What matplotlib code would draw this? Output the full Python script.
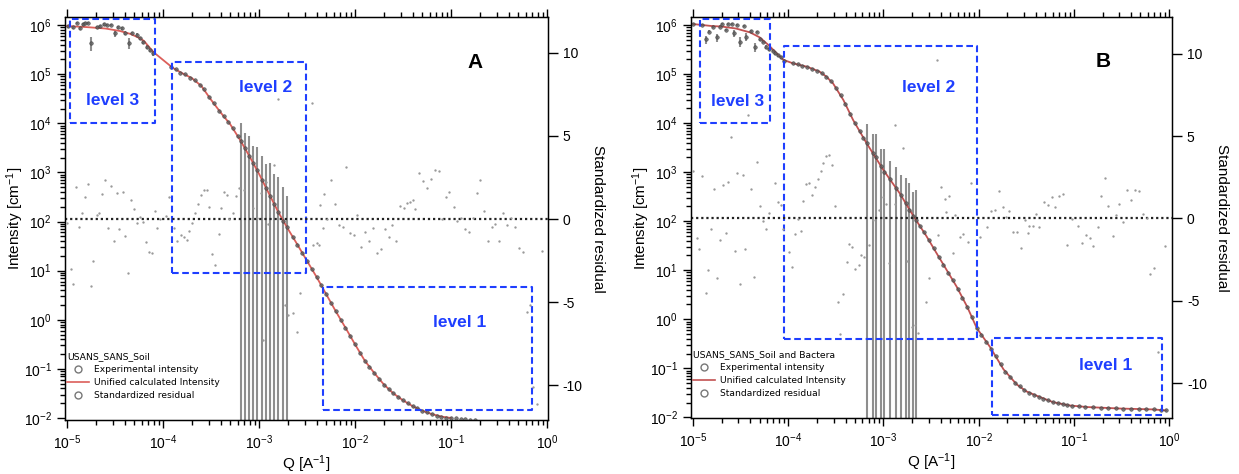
import numpy as np
import matplotlib.pyplot as plt
from matplotlib.lines import Line2D
from matplotlib.ticker import LogLocator, NullFormatter, FixedLocator

plt.rcParams['font.family'] = ['Liberation Sans', 'DejaVu Sans']
plt.rcParams['mathtext.default'] = 'regular'
plt.rcParams['axes.unicode_minus'] = False

# ---------------- A : soil ----------------
# unified fit
q_fit_a = [1.0e-5, 1.58e-5, 2.51e-5, 3.55e-5, 4.57e-5, 5.62e-5, 6.31e-5, 7.94e-5, 1.0e-4, 1.26e-4,
           1.58e-4, 2.0e-4, 2.51e-4, 3.16e-4, 3.98e-4, 5.01e-4, 6.31e-4, 7.94e-4, 1.0e-3, 1.26e-3,
           1.58e-3, 2.0e-3, 2.51e-3, 3.16e-3, 3.98e-3, 5.01e-3, 6.31e-3, 7.94e-3, 1.0e-2, 1.26e-2,
           1.58e-2, 2.0e-2, 2.51e-2, 3.16e-2, 3.98e-2, 5.01e-2, 6.31e-2, 7.94e-2, 0.100]
i_fit_a = [9.55e5, 9.12e5, 8.51e5, 7.59e5, 6.61e5, 5.50e5, 4.79e5, 2.82e5, 1.95e5, 1.35e5,
           1.05e5, 8.3e4, 5.75e4, 3.02e4, 1.66e4, 9.55e3, 4.68e3, 2.14e3, 933, 380,
           158, 70.8, 33.9, 15.8, 7.41, 3.31, 1.48, 0.692, 0.316, 0.148,
           0.0832, 0.0479, 0.0316, 0.0229, 0.0174, 0.0141, 0.0120, 0.0107, 0.0100]

# experimental intensity (USANS + SANS) with errors
q_exp_a = [1.02e-5, 1.15e-5, 1.27e-5, 1.36e-5, 1.47e-5, 1.54e-5, 1.65e-5, 1.78e-5, 2.05e-5, 2.21e-5,
           2.43e-5, 2.61e-5, 2.87e-5, 3.16e-5, 3.40e-5, 3.74e-5, 4.02e-5, 4.43e-5, 4.75e-5, 5.36e-5,
           5.75e-5, 6.19e-5, 6.81e-5, 7.32e-5, 7.87e-5,
           1.20e-4, 1.35e-4, 1.51e-4, 1.70e-4, 1.91e-4, 2.14e-4, 2.40e-4, 2.69e-4, 3.02e-4, 3.39e-4,
           3.80e-4, 4.27e-4, 4.79e-4, 5.37e-4, 6.03e-4,
           6.44e-4, 7.14e-4, 7.87e-4, 8.66e-4, 9.53e-4, 1.07e-3, 1.18e-3, 1.30e-3, 1.43e-3, 1.58e-3,
           1.78e-3, 1.96e-3,
           2.24e-3, 2.51e-3, 2.82e-3, 3.16e-3, 3.55e-3, 3.98e-3, 4.47e-3, 5.01e-3, 5.62e-3, 6.31e-3,
           7.08e-3, 7.94e-3, 8.91e-3, 1.00e-2, 1.12e-2, 1.26e-2, 1.41e-2, 1.58e-2, 1.78e-2, 2.00e-2,
           2.24e-2, 2.51e-2, 2.82e-2, 3.16e-2, 3.55e-2, 3.98e-2, 4.47e-2, 5.01e-2, 5.62e-2, 6.31e-2,
           7.08e-2, 7.94e-2, 8.91e-2, 0.100, 0.112, 0.126, 0.141, 0.158, 0.178]
i_exp_a = [9.5e5, 9.1e5, 1.1e6, 8.7e5, 1.05e6, 1.1e6, 1.1e6, 4.3e5, 9.1e5, 9.5e5,
           1.05e6, 1.0e6, 1.0e6, 6.9e5, 9.1e5, 8.7e5, 6.9e5, 4.3e5, 6.9e5, 6.25e5,
           5.4e5, 4.5e5, 3.6e5, 3.1e5, 2.7e5,
           1.42e5, 1.27e5, 1.08e5, 9.9e4, 8.5e4, 7.7e4, 6.1e4, 4.9e4, 3.4e4, 2.6e4,
           1.8e4, 1.43e4, 1.05e4, 7.9e3, 5.4e3,
           4.4e3, 3.1e3, 2.2e3, 1.58e3, 1.12e3, 710, 490, 330, 230, 160,
           105, 76,
           49, 34, 23, 15.8, 11, 7.4, 5.0, 3.3, 2.2, 1.48,
           1.0, 0.69, 0.47, 0.32, 0.21, 0.148, 0.110, 0.083, 0.063, 0.048,
           0.039, 0.032, 0.027, 0.023, 0.020, 0.0174, 0.0158, 0.0141, 0.0132, 0.0120,
           0.0112, 0.0107, 0.0102, 0.0100, 0.0098, 0.0095, 0.0094, 0.0093, 0.0093]
err_exp_a = [6e4, 6e4, 7e4, 6e4, 7e4, 7e4, 7e4, 1.3e5, 6e4, 6e4,
             7e4, 6e4, 6e4, 1.2e5, 6e4, 6e4, 6e4, 1.1e5, 5e4, 5e4,
             4e4, 4e4, 3e4, 3e4, 3e4,
             0, 0, 0, 0, 0, 0, 0, 0, 0, 0,
             0, 0, 0, 0, 0,
             5.6e3, 3.4e3, 3.2e3, 1.9e3, 2.2e3, 1.5e3, 1.0e3, 1.2e3, 720, 640,
             400, 250,
             0, 0, 0, 0, 0, 0, 0, 0, 0, 0,
             0, 0, 0, 0, 0, 0, 0, 0, 0, 0,
             0, 0, 0, 0, 0, 0, 0, 0, 0, 0,
             0, 0, 0, 0, 0, 0, 0, 0, 0]

# standardized residuals
q_res_a = [1.0e-5, 1.09e-5, 1.16e-5, 1.24e-5, 1.34e-5, 1.43e-5, 1.54e-5, 1.64e-5, 1.77e-5, 1.88e-5,
           2.04e-5, 2.17e-5, 2.32e-5, 2.49e-5, 2.70e-5, 2.85e-5, 3.09e-5, 3.29e-5, 3.51e-5, 3.80e-5,
           4.05e-5, 4.36e-5, 4.65e-5, 4.99e-5, 5.41e-5, 5.76e-5, 6.14e-5, 6.65e-5, 7.21e-5, 7.62e-5,
           8.19e-5, 8.73e-5, 9.31e-5, 1.07e-4, 1.16e-4, 1.31e-4, 1.41e-4, 1.53e-4, 1.66e-4, 1.77e-4,
           1.88e-4, 2.00e-4, 2.15e-4, 2.32e-4, 2.47e-4, 2.67e-4, 2.85e-4, 3.04e-4, 3.27e-4, 3.51e-4,
           3.80e-4, 4.05e-4, 4.32e-4, 4.60e-4, 4.91e-4, 5.32e-4, 5.76e-4, 6.14e-4, 6.98e-4, 8.60e-4,
           9.62e-4, 1.06e-3, 1.10e-3, 1.18e-3, 1.24e-3, 1.43e-3, 1.58e-3, 1.87e-3, 2.01e-3, 2.26e-3,
           2.49e-3, 2.67e-3, 3.56e-3, 3.62e-3, 3.99e-3, 4.25e-3, 4.32e-3, 4.68e-3, 4.75e-3, 5.15e-3,
           5.67e-3, 6.24e-3, 6.76e-3, 7.44e-3, 8.05e-3, 8.87e-3, 9.77e-3, 1.06e-2, 1.16e-2, 1.28e-2,
           1.41e-2, 1.55e-2, 1.68e-2, 1.85e-2, 2.04e-2, 2.24e-2, 2.43e-2, 2.67e-2, 2.94e-2, 3.24e-2,
           3.51e-2, 3.74e-2, 3.99e-2, 4.25e-2, 4.68e-2, 5.07e-2, 5.58e-2, 6.14e-2, 6.76e-2, 7.44e-2,
           8.05e-2, 8.87e-2, 9.61e-2, 0.107, 0.116, 0.128, 0.139, 0.153, 0.168, 0.185,
           0.200, 0.221, 0.243, 0.267, 0.290, 0.319, 0.351, 0.386, 0.419, 0.468,
           0.507, 0.558, 0.619, 0.665, 0.714, 0.787, 0.887]
res_a = [-0.26, -3.03, -3.92, 1.91, -0.46, 0.34, 1.35, 2.11, -4.02, -2.53,
         0.24, 0.38, 1.51, 2.35, -0.56, 2.01, -1.35, 1.55, -0.62, 1.63,
         -1.02, -3.23, 1.12, 0.60, -0.24, 0.14, -0.16, -1.37, -1.99, -2.07,
         0.46, -0.52, -0.02, 0.18, 1.35, -0.52, -1.33, -0.98, -1.06, -1.27,
         -0.74, -0.22, 0.34, 0.90, 1.43, 1.77, 1.77, 0.74, -2.11, -2.79,
         -0.88, 0.66, 1.61, 1.43, -0.02, 0.34, 1.39, 1.85, 1.75, 0.68,
         0.04, 1.59, -7.29, 2.25, -0.30, 3.25, 7.23, -5.18, -5.78, -5.66,
         -6.81, -4.46, 6.99, -1.55, -1.47, -1.59, 0.82, -0.56, 1.49, -0.02,
         2.35, 0.90, -0.38, -0.50, 3.13, -0.84, -0.98, 0.26, -1.71, -0.78,
         -1.31, -0.54, -2.03, -1.81, -0.62, -1.08, -0.38, -1.33, 0.80, 0.66,
         0.94, 1.02, 1.14, 0.58, 2.79, 2.29, 1.87, 2.39, 2.95, 2.87,
         -0.02, 1.35, 1.63, 0.74, -0.12, 0.04, -0.62, -0.78, 0.08, 1.55,
         2.35, 0.48, -1.31, -0.48, -0.30, -1.31, 0.34, -0.38, 0.04, -0.46,
         -1.77, -1.99, -5.60, -5.18, -10.1, -11.1, -1.91]

# level regions: Q range and intensity range
levels_a = ['level 3', 'level 2', 'level 1']
level_q_a = [(1.07e-5, 8.2e-5), (1.24e-4, 3.09e-3), (4.6e-3, 0.693)]
level_i_a = [(1.0e4, 1.32e6), (8.8, 1.76e5), (0.0146, 4.7)]

# ---------------- B : soil and bacteria ----------------
q_fit_b = [1.0e-5, 1.58e-5, 2.0e-5, 2.82e-5, 3.98e-5, 5.01e-5, 6.31e-5, 7.59e-5, 8.91e-5, 1.12e-4,
           1.58e-4, 2.14e-4, 2.51e-4, 2.95e-4, 3.80e-4, 4.79e-4, 6.61e-4, 1.0e-3, 1.48e-3, 2.04e-3,
           2.82e-3, 3.63e-3, 5.89e-3, 7.59e-3, 9.55e-3, 1.32e-2, 1.82e-2, 2.51e-2, 3.16e-2, 4.07e-2,
           6.03e-2, 9.12e-2, 0.138, 0.309, 0.676, 0.933]
i_fit_b = [1.05e6, 9.55e5, 9.33e5, 8.51e5, 7.08e5, 5.62e5, 3.80e5, 2.63e5, 1.95e5, 1.66e5,
           1.41e5, 1.12e5, 8.9e4, 6.5e4, 2.95e4, 1.17e4, 3.98e3, 1.10e3, 372, 132,
           50, 21.9, 4.57, 1.78, 0.66, 0.269, 0.0955, 0.0468, 0.0339, 0.0275,
           0.0204, 0.0174, 0.0162, 0.0151, 0.0145, 0.0138]

q_exp_b = [1.0e-5, 1.23e-5, 1.37e-5, 1.49e-5, 1.61e-5, 1.77e-5, 1.92e-5, 2.0e-5, 2.22e-5, 2.35e-5,
           2.55e-5, 2.70e-5, 2.92e-5, 3.12e-5, 3.44e-5, 3.61e-5, 4.04e-5, 4.45e-5, 4.67e-5, 5.06e-5,
           5.40e-5, 5.85e-5, 6.33e-5, 6.87e-5, 7.32e-5, 7.82e-5, 8.47e-5, 9.04e-5,
           1.12e-4, 1.26e-4, 1.41e-4, 1.58e-4, 1.78e-4, 2.00e-4, 2.24e-4, 2.51e-4, 2.82e-4, 3.16e-4,
           3.55e-4, 3.98e-4, 4.47e-4, 5.01e-4, 5.62e-4, 6.17e-4,
           6.68e-4, 7.69e-4, 8.26e-4, 9.33e-4, 1.02e-3, 1.16e-3, 1.34e-3, 1.52e-3, 1.71e-3, 1.86e-3,
           2.03e-3, 2.19e-3,
           2.40e-3, 2.69e-3, 3.02e-3, 3.39e-3, 3.80e-3, 4.27e-3, 4.79e-3, 5.37e-3, 6.03e-3, 6.76e-3,
           7.59e-3, 8.51e-3, 9.55e-3, 1.07e-2, 1.20e-2, 1.35e-2, 1.51e-2, 1.70e-2, 1.91e-2, 2.14e-2,
           2.40e-2, 2.69e-2, 3.02e-2, 3.39e-2, 3.80e-2, 4.27e-2, 4.79e-2, 5.37e-2, 6.03e-2, 6.76e-2,
           7.59e-2, 8.51e-2, 9.55e-2, 0.112, 0.132, 0.158, 0.191, 0.229, 0.275, 0.331,
           0.398, 0.479, 0.575, 0.692, 0.813, 0.933]
i_exp_b = [1.07e6, 1.0e6, 5.1e5, 7.3e5, 9.3e5, 5.6e5, 9.3e5, 1.05e6, 7.9e5, 1.07e6,
           1.05e6, 6.8e5, 1.0e6, 4.6e5, 9.5e5, 5.8e5, 7.6e5, 3.6e5, 7.3e5, 5.1e5,
           4.6e5, 3.6e5, 3.2e5, 3.0e5, 2.7e5, 2.4e5, 2.2e5, 1.86e5,
           1.66e5, 1.58e5, 1.48e5, 1.41e5, 1.29e5, 1.17e5, 1.05e5, 8.9e4, 7.1e4, 5.2e4,
           3.7e4, 2.45e4, 1.55e4, 1.0e4, 6.9e3, 5.0e3,
           3.9e3, 2.5e3, 2.0e3, 1.35e3, 1.02e3, 720, 480, 340, 230, 170,
           130, 105,
           79, 60, 42, 28, 19, 13, 8.9, 6.2, 4.2, 2.75,
           1.78, 1.10, 0.66, 0.47, 0.34, 0.25, 0.174, 0.120, 0.085, 0.065,
           0.051, 0.043, 0.036, 0.032, 0.029, 0.026, 0.024, 0.0224, 0.0204, 0.0195,
           0.0186, 0.0178, 0.0174, 0.0170, 0.0166, 0.0162, 0.0158, 0.0155, 0.0153, 0.0151,
           0.0150, 0.0148, 0.0146, 0.0145, 0.0141, 0.0138]
err_exp_b = [5e4, 5e4, 1.0e5, 5e4, 5e4, 1.1e5, 5e4, 5e4, 5e4, 5e4,
             5e4, 1.0e5, 5e4, 1.0e5, 5e4, 1.0e5, 5e4, 8e4, 4e4, 4e4,
             3e4, 3e4, 2.5e4, 2e4, 2e4, 2e4, 1.5e4, 1.5e4,
             0, 0, 0, 0, 0, 0, 0, 0, 0, 0,
             0, 0, 0, 0, 0, 0,
             5.6e3, 3.4e3, 3.9e3, 1.65e3, 2.0e3, 1.0e3, 820, 530, 530, 440,
             270, 325,
             0, 0, 0, 0, 0, 0, 0, 0, 0, 0,
             0, 0, 0, 0, 0, 0, 0, 0, 0, 0,
             0, 0, 0, 0, 0, 0, 0, 0, 0, 0,
             0, 0, 0, 0, 0, 0, 0, 0, 0, 0,
             0, 0, 0, 0, 0, 0]

q_res_b = [1.0e-5, 1.09e-5, 1.17e-5, 1.24e-5, 1.37e-5, 1.44e-5, 1.55e-5, 1.66e-5, 1.77e-5, 1.92e-5,
           2.05e-5, 2.22e-5, 2.33e-5, 2.53e-5, 2.74e-5, 2.90e-5, 3.12e-5, 3.38e-5, 3.55e-5, 3.81e-5,
           4.10e-5, 4.41e-5, 4.70e-5, 5.06e-5, 5.48e-5, 5.85e-5, 6.24e-5, 7.21e-5, 7.75e-5, 8.34e-5,
           8.89e-5, 1.01e-4, 1.10e-4, 1.19e-4, 1.27e-4, 1.36e-4, 1.44e-4, 1.54e-4, 1.67e-4, 1.78e-4,
           1.93e-4, 2.06e-4, 2.19e-4, 2.34e-4, 2.49e-4, 2.70e-4, 2.88e-4, 3.13e-4, 3.36e-4, 3.50e-4,
           3.79e-4, 4.11e-4, 4.38e-4, 4.68e-4, 5.07e-4, 5.49e-4, 5.86e-4, 6.25e-4, 7.11e-4, 7.71e-4,
           8.91e-4, 9.82e-4, 1.06e-3, 1.14e-3, 1.32e-3, 1.33e-3, 1.62e-3, 1.75e-3, 1.98e-3, 2.15e-3,
           2.29e-3, 2.80e-3, 3.04e-3, 3.63e-3, 3.70e-3, 4.03e-3, 4.40e-3, 4.54e-3, 4.85e-3, 5.35e-3,
           5.70e-3, 6.38e-3, 6.92e-3, 7.68e-3, 8.39e-3, 1.02e-2, 1.22e-2, 1.34e-2, 1.48e-2, 1.63e-2,
           1.79e-2, 1.94e-2, 2.10e-2, 2.28e-2, 2.51e-2, 2.77e-2, 3.05e-2, 3.30e-2, 3.41e-2, 3.70e-2,
           4.01e-2, 4.35e-2, 4.86e-2, 5.36e-2, 5.90e-2, 6.40e-2, 6.93e-2, 7.64e-2, 8.41e-2, 9.57e-2,
           0.111, 0.122, 0.134, 0.148, 0.160, 0.177, 0.191, 0.211, 0.229, 0.256,
           0.277, 0.301, 0.331, 0.365, 0.402, 0.436, 0.480, 0.537, 0.582, 0.631,
           0.695, 0.760, 0.914]
res_b = [2.90, -1.20, -1.87, 2.60, -4.50, -3.12, -0.66, 1.77, -3.59, -1.30,
         2.03, -0.86, 2.19, 4.92, -1.97, 2.78, -3.99, 2.64, -1.87, 6.27,
         1.77, -3.57, 3.44, 0.78, -0.13, -0.66, 0.31, 2.17, 1.02, 0.82,
         -0.62, -2.01, -2.96, -0.94, -0.01, -0.76, 1.04, 2.09, 2.17, 1.44,
         1.89, 2.37, 2.86, 3.34, 3.79, 3.83, 3.22, 0.78, -5.04, -7.0,
         -4.58, -2.66, -1.57, -1.75, -3.08, -2.82, -2.21, -2.31, -1.61, -0.09,
         0.52, 1.32, 0.88, -2.72, 5.67, 0.88, 4.25, -2.58, -6.56, -6.45,
         -6.92, -5.04, -3.59, 9.6, -1.00, 1.89, 1.18, 0.41, 1.36, -2.11,
         0.21, -1.10, -0.94, -1.40, 2.13, -1.14, -0.49, 0.45, 0.52, 1.69,
         0.68, 0.11, 0.47, -0.80, -0.80, -1.81, -0.09, -0.90, -0.45, -0.45,
         0.27, -0.49, 1.02, 0.84, 1.32, 0.72, 1.36, 1.48, -1.59, -0.05,
         -0.45, -1.50, -1.00, -1.20, -1.67, -0.49, 1.36, 2.43, 0.76, -1.06,
         0.21, 0.88, -0.19, 1.73, 1.12, 1.73, 1.69, 0.27, 0.01, -3.36,
         -3.02, -8.07, -1.67]

levels_b = ['level 3', 'level 2', 'level 1']
level_q_b = [(1.19e-5, 6.44e-5), (9.0e-5, 9.7e-3), (1.37e-2, 0.851)]
level_i_b = [(1.0e4, 1.32e6), (0.39, 3.78e5), (0.0113, 0.42)]

for qa, ia in [(q_exp_a, i_exp_a), (q_res_a, res_a), (q_exp_b, i_exp_b), (q_res_b, res_b)]:
    assert len(qa) == len(ia)

BLUE = '#1f3fff'


def draw_panel(rect, q_fit, i_fit, fit_color, q_exp, i_exp, err_exp, q_res, res,
               levels, level_q, level_i, label_xy, legend_title, letter, letter_xy,
               xlim, ylim, rlim):
    ax = fig.add_axes(rect)
    ax.set_xscale('log')
    ax.set_yscale('log')

    ax.errorbar(q_exp, i_exp, yerr=err_exp, fmt='none', ecolor='#8e8e8e',
                elinewidth=1.5, capsize=0, zorder=2)
    ax.plot(q_fit, i_fit, color=fit_color, lw=1.3, zorder=3)
    ax.plot(q_exp, i_exp, 'o', ms=2.6, mfc='#5a5a5a', mec='#3a3a3a', mew=0.4,
            alpha=0.8, zorder=4)

    for name, (q0, q1), (i0, i1), (tx, ty) in zip(levels, level_q, level_i, label_xy):
        ax.plot([q0, q1, q1, q0, q0], [i0, i0, i1, i1, i0], color=BLUE, lw=1.5,
                dashes=(3.2, 1.7), zorder=5)
        ax.text(tx, ty, name, transform=ax.transAxes, color=BLUE, fontsize=12.5,
                fontweight='bold', ha='center', va='center')

    ax.text(letter_xy[0], letter_xy[1], letter, transform=ax.transAxes, fontsize=15,
            fontweight='bold', ha='center', va='center')

    ax.set_xlim(*xlim)
    ax.set_ylim(*ylim)
    ax.xaxis.set_major_locator(LogLocator(base=10, numticks=20))
    ax.xaxis.set_minor_locator(LogLocator(base=10, subs=np.arange(2, 10), numticks=100))
    ax.xaxis.set_minor_formatter(NullFormatter())
    ax.yaxis.set_major_locator(LogLocator(base=10, numticks=20))
    ax.yaxis.set_minor_locator(LogLocator(base=10, subs=np.arange(2, 10), numticks=100))
    ax.yaxis.set_minor_formatter(NullFormatter())
    ax.tick_params(which='both', direction='out', top=True, width=1, labelsize=10)
    ax.tick_params(which='major', length=6)
    ax.tick_params(which='minor', length=3.5)
    ax.set_xlabel('Q [A$^{-1}$]', fontsize=11, labelpad=1)
    ax.set_ylabel('Intensity [cm$^{-1}$]', fontsize=11, labelpad=-2)
    for s in ax.spines.values():
        s.set_linewidth(1)

    ax2 = ax.twinx()
    ax2.plot(q_res, res, 'o', ms=1.7, color='#9a9a9a', mew=0, zorder=3)
    ax2.axhline(0, color='#222222', lw=1.6, ls=(0, (1, 1.3)), zorder=2)
    ax2.set_ylim(*rlim)
    ax2.yaxis.set_major_locator(FixedLocator([-10, -5, 0, 5, 10]))
    ax2.tick_params(axis='y', direction='out', length=7, width=1, labelsize=10)
    ax2.set_ylabel('Standardized residual', fontsize=11, rotation=270, labelpad=16)

    handles = [Line2D([], [], marker='o', ls='none', mfc='none', mec='#777777', ms=5),
               Line2D([], [], color=fit_color, lw=1.2),
               Line2D([], [], marker='o', ls='none', mfc='none', mec='#777777', ms=5)]
    labels = ['Experimental intensity', 'Unified calculated Intensity', 'Standardized residual']
    leg = ax2.legend(handles, labels, title=legend_title, loc='lower left',
                     bbox_to_anchor=(0.0, 0.045), frameon=False,
                     prop={'family': 'DejaVu Sans', 'size': 6.6},
                     title_fontproperties={'family': 'DejaVu Sans', 'size': 6.7},
                     handlelength=2.4, handletextpad=0.55, labelspacing=0.45,
                     borderpad=0.2, borderaxespad=0.0)
    leg._legend_box.align = 'left'
    return ax, ax2


fig = plt.figure(figsize=(12.39, 4.74), dpi=100)

draw_panel([0.0525, 0.1139, 0.3898, 0.8502], q_fit_a, i_fit_a, '#dc5f5a',
           q_exp_a, i_exp_a, err_exp_a, q_res_a, res_a,
           levels_a, level_q_a, level_i_a,
           [(0.099, 0.792), (0.416, 0.826), (0.818, 0.243)],
           'USANS_SANS_Soil', 'A', (0.849, 0.886),
           (9.53e-6, 1.024), (9.1e-3, 1.46e6), (-12.09, 12.15))

draw_panel([0.5577, 0.1175, 0.3885, 0.8460], q_fit_b, i_fit_b, '#c25252',
           q_exp_b, i_exp_b, err_exp_b, q_res_b, res_b,
           levels_b, level_q_b, level_i_b,
           [(0.096, 0.791), (0.493, 0.826), (0.861, 0.131)],
           'USANS_SANS_Soil and Bactera', 'B', (0.857, 0.889),
           (9.53e-6, 1.08), (9.55e-3, 1.44e6), (-12.12, 12.2))

fig.savefig('out.png', dpi=100, facecolor='white')
